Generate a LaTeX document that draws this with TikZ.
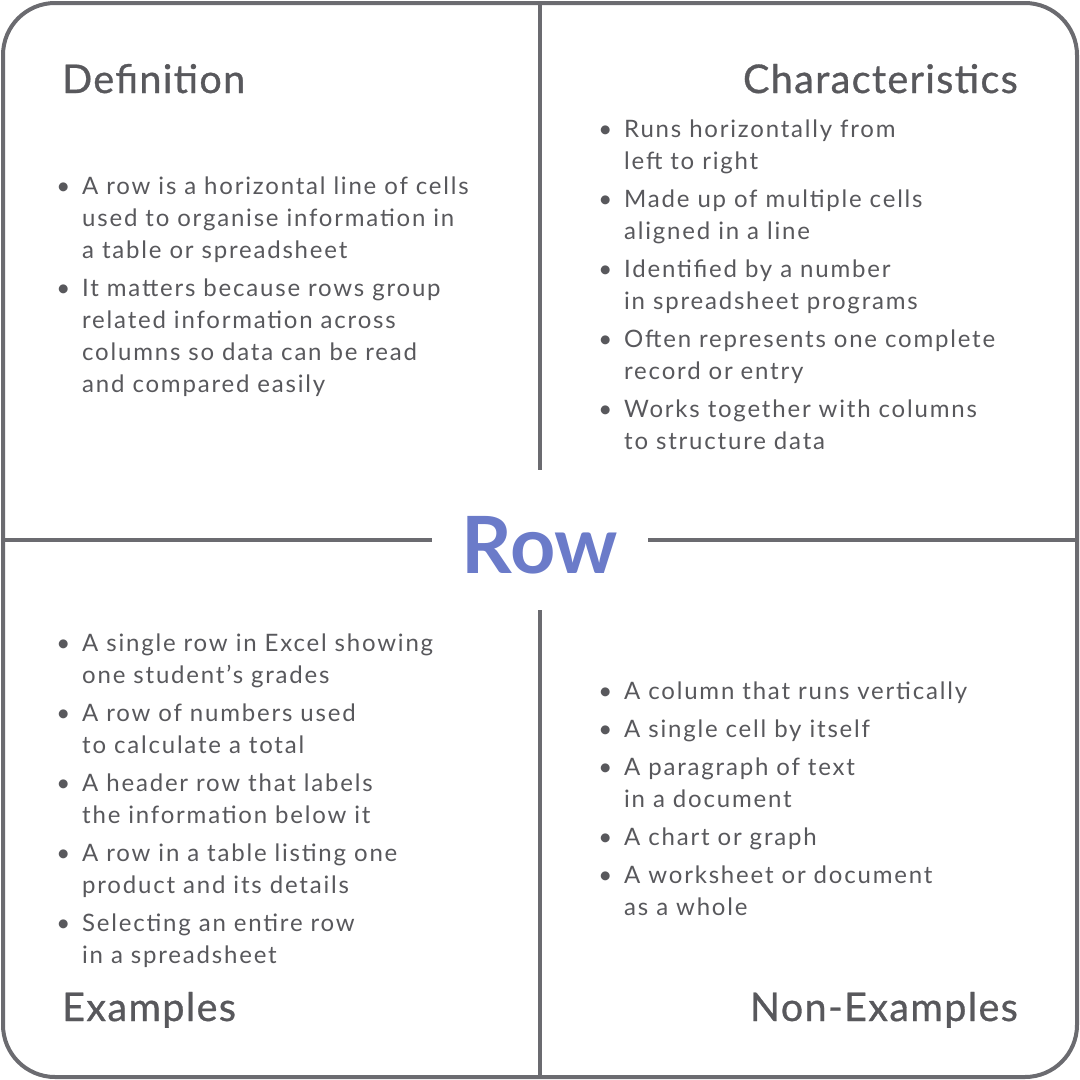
\documentclass[tikz,border=0pt]{standalone}
\usepackage{fontspec}
\setmainfont{Lato}
\newfontfamily\bodyf[LetterSpace=7.5]{Lato}
\newfontfamily\headf[LetterSpace=3.5,FakeBold=0.8]{Lato}
\definecolor{frame}{HTML}{6B6B70}
\definecolor{txt}{HTML}{58585C}
\definecolor{title}{HTML}{6B7BC9}
\tikzset{
  item/.style={anchor=base west,align=left,inner sep=0pt,text=txt,font=\bodyf\fontsize{24}{32}\selectfont},
  headl/.style={anchor=base west,inner sep=0pt,text=txt,font=\headf\fontsize{39.5}{40}\selectfont},
  headr/.style={anchor=base east,inner sep=0pt,text=txt,font=\headf\fontsize{39.5}{40}\selectfont},
  rule/.style={draw=frame,line width=4pt}
}
\newcommand{\bul}{\llap{\textbullet\hspace{12pt}}}
\begin{document}
\begin{tikzpicture}[x=1pt,y=-1pt]
\useasboundingbox (0,0) rectangle (1080,1080);
\draw[rule,rounded corners=52pt] (3,3) rectangle (1077,1077);
\coordinate (vt) at (540,3); \coordinate (vm1) at (540,470);
\coordinate (vm2) at (540,610); \coordinate (vb) at (540,1077);
\coordinate (hl) at (3,540); \coordinate (hm1) at (432,540);
\coordinate (hm2) at (648,540); \coordinate (hr) at (1077,540);
\draw[rule] (vt) -- (vm1); \draw[rule] (vm2) -- (vb);
\draw[rule] (hl) -- (hm1); \draw[rule] (hm2) -- (hr);
\node[text=title,font=\fontsize{79}{80}\selectfont\bfseries,inner sep=0pt,anchor=base] (t) at (540,573) {Row};
\node[headl] (h1) at (62,93) {Definition};
\node[headr] (h2) at (1018,93) {Characteristics};
\node[headl] (h3) at (62,1021) {Examples};
\node[headr] (h4) at (1018,1021) {Non-Examples};
\node[item] (d1) at (82,258) {\bul A row is a horizontal line of cells\\used to organise information in\\a table or spreadsheet};
\node[item] (d2) at (82,392) {\bul It matters because rows group\\related information across\\columns so data can be read\\and compared easily};
\node[item] (c1) at (624,169) {\bul Runs horizontally from\\left to right};
\node[item] (c2) at (624,239) {\bul Made up of multiple cells\\aligned in a line};
\node[item] (c3) at (624,309) {\bul Identified by a number\\in spreadsheet programs};
\node[item] (c4) at (624,379) {\bul Often represents one complete\\record or entry};
\node[item] (c5) at (624,449) {\bul Works together with columns\\to structure data};
\node[item] (e1) at (82,683) {\bul A single row in Excel showing\\one student’s grades};
\node[item] (e2) at (82,753) {\bul A row of numbers used\\to calculate a total};
\node[item] (e3) at (82,823) {\bul A header row that labels\\the information below it};
\node[item] (e4) at (82,893) {\bul A row in a table listing one\\product and its details};
\node[item] (e5) at (82,963) {\bul Selecting an entire row\\in a spreadsheet};
\node[item] (n1) at (624,699) {\bul A column that runs vertically};
\node[item] (n2) at (624,737) {\bul A single cell by itself};
\node[item] (n3) at (624,807) {\bul A paragraph of text\\in a document};
\node[item] (n4) at (624,845) {\bul A chart or graph};
\node[item] (n5) at (624,915) {\bul A worksheet or document\\as a whole};
\end{tikzpicture}
\end{document}
